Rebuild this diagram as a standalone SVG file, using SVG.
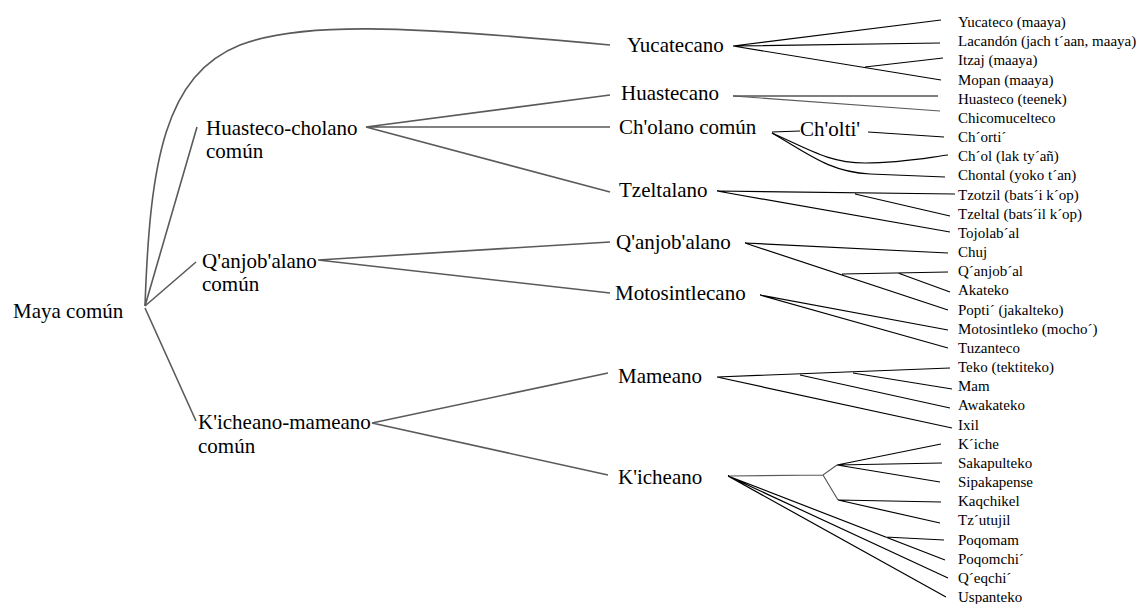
<svg xmlns="http://www.w3.org/2000/svg" width="1136" height="604" viewBox="0 0 1136 604">
<style>
text{font-family:"Liberation Serif","Times New Roman",Times,"DejaVu Serif",serif;fill:#000}
.big{font-size:21px}
.leaf{font-size:15px}
.g{fill:none;stroke:#5a5a5a;stroke-width:1.6}
.k{fill:none;stroke:#000;stroke-width:1.2}
</style>
<rect width="1136" height="604" fill="#fff"/>
<g id="connectors">
<path class="g" d="M145,306 C150,160 165,75 240,45 C300,22 400,25 610,45"/>
<path class="g" d="M145,306 L197,127 M145,306 L196,262 M145,308 L196,421"/>
<path class="g" d="M366,127 L610,95 M366,127 L610,127 M366,127 L610,192"/>
<path class="g" d="M318,260 L610,242 M318,260 L610,293"/>
<path class="g" d="M372,423 L608,373 M372,423 L608,475"/>
<path class="k" d="M733,46 L941,20 M733,46 L940,43 M733,46 L941,80 M865,67 L943,58"/>
<path class="k" d="M733,96 L938,96"/>
<path class="g" d="M733,96 L940,111" style="stroke-width:1.2"/>
<path class="k" d="M772,132 L800,131 M868,132 L944,137"/>
<path class="k" d="M772,133 C810,150 830,163 865,163 C900,163 925,158 948,155"/>
<path class="k" d="M772,133 C810,155 830,172 870,174 L945,177"/>
<path class="k" d="M717,191 L955,194 M855,194 L950,216 M717,191 L950,232"/>
<path class="k" d="M745,243 L948,253 M745,243 L948,310 M842,274 L948,272 M898,273 L950,292"/>
<path class="k" d="M760,295 L948,330 M760,295 L948,348"/>
<path class="k" d="M717,377 L950,368 M800,375 L950,408 M853,373 L952,389 M717,377 L952,428"/>
<path class="g" d="M728,476 L823,475 L837,465 M823,475 L838,500" style="stroke-width:1.2"/>
<path class="k" d="M837,465 L941,444 M837,465 L942,463 M837,465 L940,482 M838,500 L941,502 M838,500 L940,523"/>
<path class="k" d="M728,476 L945,560 M728,476 L948,578 M728,476 L946,597 M885,537 L944,540"/>
</g>
<g id="maya-comun"><text class="big" x="13" y="318">Maya común</text></g>
<g id="huasteco-cholano"><text class="big" x="206" y="135">Huasteco-cholano</text><text class="big" x="206" y="158">común</text></g>
<g id="qanjobalano-comun"><text class="big" x="202" y="268">Q'anjob'alano</text><text class="big" x="202" y="291">común</text></g>
<g id="kicheano-mameano"><text class="big" x="198" y="429">K'icheano-mameano</text><text class="big" x="198" y="453">común</text></g>
<g id="yucatecano"><text class="big" x="627" y="52">Yucatecano</text></g>
<g id="huastecano"><text class="big" x="621" y="100">Huastecano</text></g>
<g id="cholano-comun"><text class="big" x="619" y="134">Ch'olano común</text></g>
<g id="cholti"><text class="big" x="800" y="136">Ch'olti'</text></g>
<g id="tzeltalano"><text class="big" x="619" y="197">Tzeltalano</text></g>
<g id="qanjobalano"><text class="big" x="616" y="249">Q'anjob'alano</text></g>
<g id="motosintlecano"><text class="big" x="615" y="300">Motosintlecano</text></g>
<g id="mameano"><text class="big" x="618" y="383">Mameano</text></g>
<g id="kicheano"><text class="big" x="618" y="484">K'icheano</text></g>
<g id="yucateco"><text class="leaf" x="958" y="27">Yucateco (maaya)</text></g>
<g id="lacandon"><text class="leaf" x="958" y="46.2">Lacandón (jach t´aan, maaya)</text></g>
<g id="itzaj"><text class="leaf" x="958" y="65.3">Itzaj (maaya)</text></g>
<g id="mopan"><text class="leaf" x="958" y="84.5">Mopan (maaya)</text></g>
<g id="huasteco"><text class="leaf" x="958" y="103.7">Huasteco (teenek)</text></g>
<g id="chicomucelteco"><text class="leaf" x="958" y="122.9">Chicomucelteco</text></g>
<g id="chorti"><text class="leaf" x="958" y="142">Ch´orti´</text></g>
<g id="chol"><text class="leaf" x="958" y="161.2">Ch´ol (lak ty´añ)</text></g>
<g id="chontal"><text class="leaf" x="958" y="180.4">Chontal (yoko t´an)</text></g>
<g id="tzotzil"><text class="leaf" x="958" y="199.5">Tzotzil (bats´i k´op)</text></g>
<g id="tzeltal"><text class="leaf" x="958" y="218.7">Tzeltal (bats´il k´op)</text></g>
<g id="tojolabal"><text class="leaf" x="958" y="237.9">Tojolab´al</text></g>
<g id="chuj"><text class="leaf" x="958" y="257">Chuj</text></g>
<g id="qanjobal"><text class="leaf" x="958" y="276.2">Q´anjob´al</text></g>
<g id="akateko"><text class="leaf" x="958" y="295.4">Akateko</text></g>
<g id="popti"><text class="leaf" x="958" y="314.6">Popti´ (jakalteko)</text></g>
<g id="motosintleko"><text class="leaf" x="958" y="333.7">Motosintleko (mocho´)</text></g>
<g id="tuzanteco"><text class="leaf" x="958" y="352.9">Tuzanteco</text></g>
<g id="teko"><text class="leaf" x="958" y="372.1">Teko (tektiteko)</text></g>
<g id="mam"><text class="leaf" x="958" y="391.2">Mam</text></g>
<g id="awakateko"><text class="leaf" x="958" y="410.4">Awakateko</text></g>
<g id="ixil"><text class="leaf" x="958" y="429.6">Ixil</text></g>
<g id="kiche"><text class="leaf" x="958" y="448.7">K´iche</text></g>
<g id="sakapulteko"><text class="leaf" x="958" y="467.9">Sakapulteko</text></g>
<g id="sipakapense"><text class="leaf" x="958" y="487.1">Sipakapense</text></g>
<g id="kaqchikel"><text class="leaf" x="958" y="506.3">Kaqchikel</text></g>
<g id="tzutujil"><text class="leaf" x="958" y="525.4">Tz´utujil</text></g>
<g id="poqomam"><text class="leaf" x="958" y="544.6">Poqomam</text></g>
<g id="poqomchi"><text class="leaf" x="958" y="563.8">Poqomchi´</text></g>
<g id="qeqchi"><text class="leaf" x="958" y="582.9">Q´eqchi´</text></g>
<g id="uspanteko"><text class="leaf" x="958" y="602">Uspanteko</text></g>
</svg>
